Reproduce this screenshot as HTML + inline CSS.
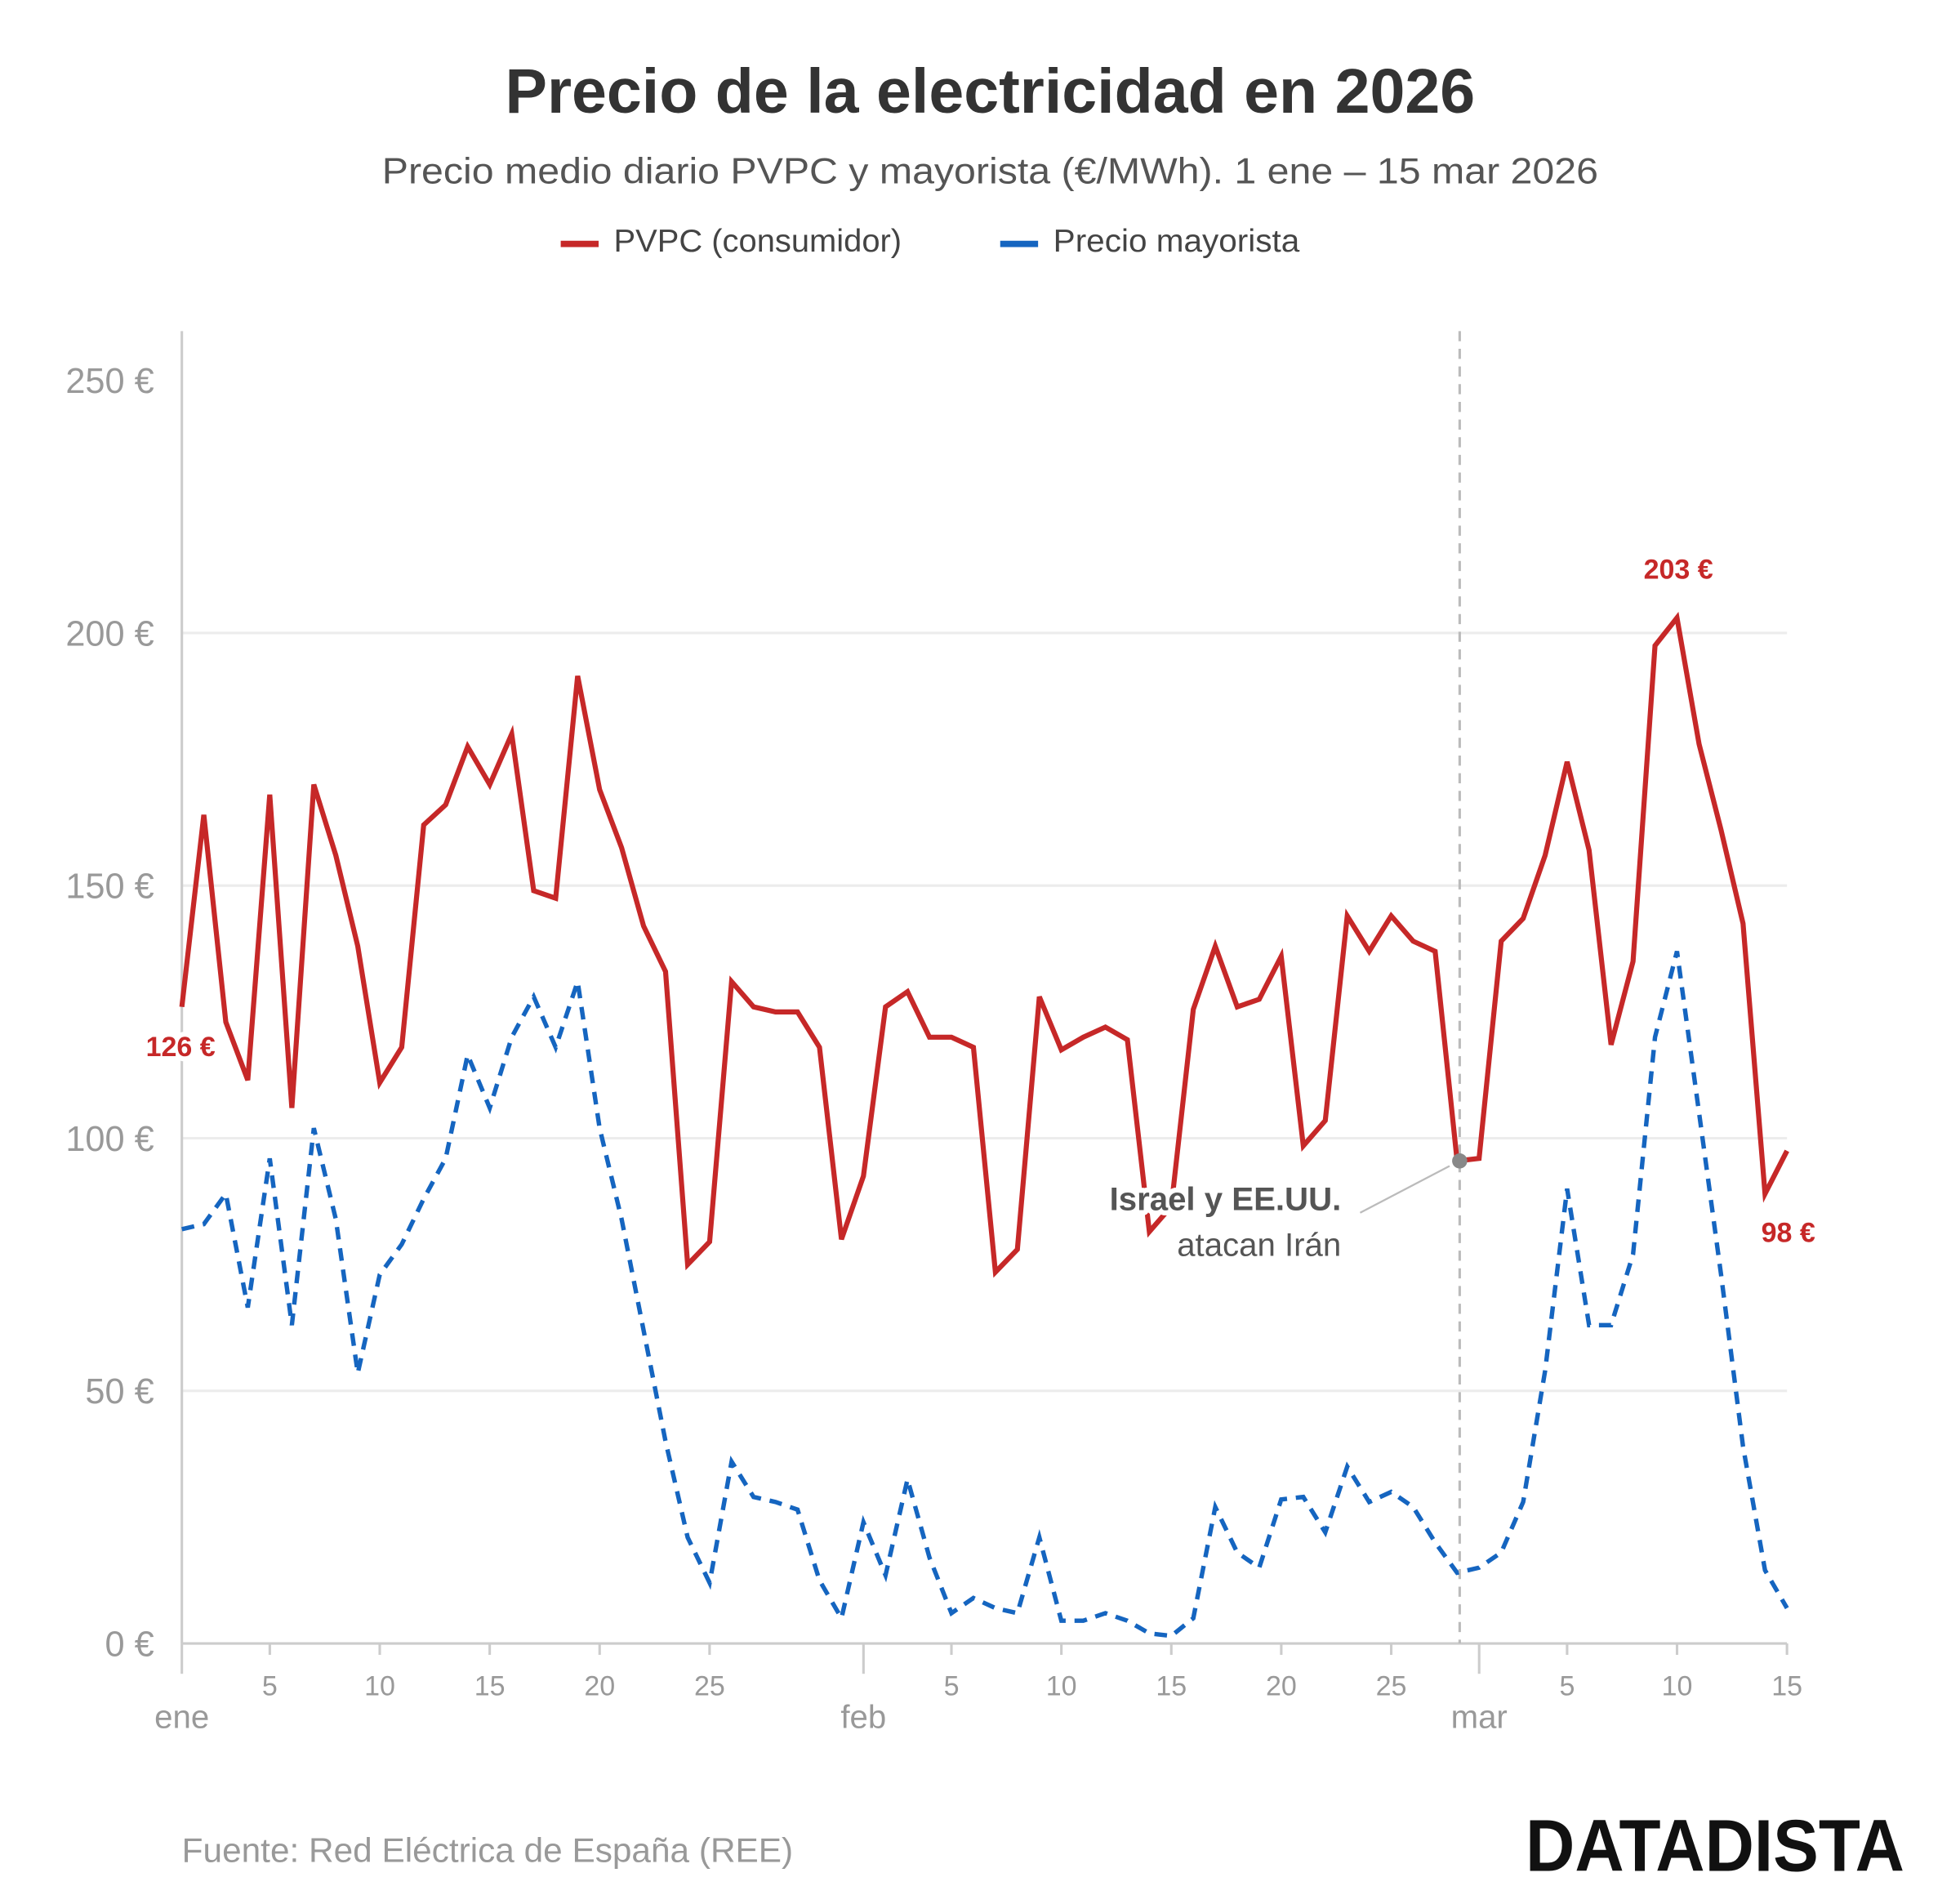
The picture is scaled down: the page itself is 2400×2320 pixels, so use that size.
<!DOCTYPE html>
<html><head><meta charset="utf-8"><style>html,body{margin:0;padding:0;background:#fff}svg{display:block}text{font-family:"Liberation Sans",sans-serif}</style></head>
<body>
<svg id="chart" width="2400" height="2320" viewBox="0 0 1552 1500" xmlns="http://www.w3.org/2000/svg">
<text x="784" y="89" text-anchor="middle" font-size="50" font-weight="bold" fill="#333" textLength="768" lengthAdjust="spacingAndGlyphs">Precio de la electricidad en 2026</text>
<text x="784" y="145" text-anchor="middle" font-size="29" fill="#555" textLength="963" lengthAdjust="spacingAndGlyphs">Precio medio diario PVPC y mayorista (€/MWh). 1 ene – 15 mar 2026</text>
<g>
<line x1="444" y1="193" x2="474" y2="193" stroke="#c62828" stroke-width="5"/>
<text x="486" y="199" font-size="25" fill="#444" textLength="228" lengthAdjust="spacingAndGlyphs">PVPC (consumidor)</text>
<line x1="792" y1="193" x2="822" y2="193" stroke="#1565c0" stroke-width="5"/>
<text x="834" y="199" font-size="25" fill="#444" textLength="195" lengthAdjust="spacingAndGlyphs">Precio mayorista</text>
</g>
<g id="grid"></g><g id="axes"></g><g id="series"></g><g id="labels"></g>
<text x="144" y="1474" font-size="27" fill="#999" textLength="484" lengthAdjust="spacingAndGlyphs">Fuente: Red Eléctrica de España (REE)</text>
<text x="1508" y="1481" text-anchor="end" font-size="58" font-weight="bold" fill="#111" textLength="300" lengthAdjust="spacingAndGlyphs">DATADISTA</text>
</svg>
<script>
const pvpc=[126,164,123,111.5,168,106,170,156,138,111,118,162,166,177.5,170,180,149,147.5,191.5,169,157.5,142,133,75,79.5,131,126,125,125,118,80,
92.5,126,129,120,120,118,73.5,78,128,117.5,120,122,119.5,81.5,86.5,125.5,138,126,127.5,136,98.5,103.5,144,137,144,139,137,95.5,
96,139,143.5,156,174.5,157,118.5,135,197.5,203,178,161,142.5,89,97.5];
const mayorista=[82,83,89,66.5,96,63,102,84,53.5,73,79,88,96,116.5,106,120,128,118,131,102,84,62,40,21,12,36,29,28,26.5,12.5,5,
24,13.5,32.5,17,6,9,7,6,21,4.5,4.5,6,4.5,2,1.5,5,27,18,15,28.5,29,22,35,28,30,27,20,14,
15,18,28,54,90,63,63,77,120,137,105,73,39,14.5,7];
const yTicks=[0,50,100,150,200,250];
const monthStarts=[0,31,59];
const monthNames=["ene","feb","mar"];
const dayTickIdx=[4,9,14,19,24,35,40,45,50,55,63,68,73];
const dayTickLabels=["5","10","15","20","25","5","10","15","20","25","5","10","15"];
const eventIdx=58;
const NS="http://www.w3.org/2000/svg";
const X0=144,X1=1415,Y0=1301,YT=301;
const n=pvpc.length;
function x(i){return X0+(X1-X0)*i/(n-1);}
function y(v){return Y0-(Y0-YT)*v/250;}
function mk(tag,attrs,parent,txt){const e=document.createElementNS(NS,tag);for(const k in attrs)e.setAttribute(k,attrs[k]);if(txt!==undefined)e.textContent=txt;parent.appendChild(e);return e;}
const grid=document.getElementById('grid'),axes=document.getElementById('axes'),series=document.getElementById('series'),labels=document.getElementById('labels');
yTicks.forEach(v=>{
  if(v>0&&v<250){const g=mk('line',{x1:X0,x2:X1,y1:y(v),y2:y(v),stroke:'#ececec','stroke-width':2},grid);
  
  }
  const t=mk('text',{x:122,y:y(v)+10,'text-anchor':'end','font-size':28,fill:'#999'},axes,v+' €');
  
  
});
const ax=mk('line',{x1:X0,x2:X0,y1:262,y2:Y0,stroke:'#ccc','stroke-width':2},axes);


const bx=mk('line',{x1:X0,x2:X1,y1:Y0,y2:Y0,stroke:'#ccc','stroke-width':2},axes);


monthStarts.forEach((d,k)=>{
  mk('line',{x1:x(d),x2:x(d),y1:Y0,y2:Y0+24,stroke:'#ccc','stroke-width':2},axes);
  const t=mk('text',{x:x(d),y:1368,'text-anchor':'middle','font-size':26,fill:'#999'},axes,monthNames[k]);
  
  
});
dayTickIdx.forEach((d,k)=>{
  mk('line',{x1:x(d),x2:x(d),y1:Y0,y2:Y0+9,stroke:'#ccc','stroke-width':2},axes);
  const t=mk('text',{x:x(d),y:1342,'text-anchor':'middle','font-size':22,fill:'#999'},axes,dayTickLabels[k]);
  
  
});
const ev=mk('line',{x1:x(eventIdx)+2,x2:x(eventIdx)+2,y1:262,y2:Y0,stroke:'#bbb','stroke-width':2,'stroke-dasharray':'8,6'},series);


function pts(a){return a.map((v,i)=>x(i).toFixed(1)+','+y(v).toFixed(1)).join(' ');}
const pb=mk('polyline',{points:pts(mayorista),fill:'none',stroke:'#1565c0','stroke-width':3.5,'stroke-dasharray':'10,7'},series);


const pr=mk('polyline',{points:pts(pvpc),fill:'none',stroke:'#c62828','stroke-width':4,'stroke-linejoin':'miter'},series);


const halo={stroke:'#fff','stroke-width':8,'paint-order':'stroke','stroke-linejoin':'round'};
function lab(txt,xx,yy,anchor,size,weight,fill,name){const a=Object.assign({x:xx,y:yy,'text-anchor':anchor,'font-size':size,'font-weight':weight,fill:fill},halo);const t=mk('text',a,labels,txt);return t;}
const cl=mk('line',{x1:1077,y1:960,x2:x(eventIdx)-6,y2:y(pvpc[eventIdx])+4,stroke:'#bbb','stroke-width':1.5},labels);


lab('Israel y EE.UU.',1062,958,'end',26,'bold','#555','annotation-title');
lab('atacan Irán',1062,994,'end',26,'normal','#555','annotation-text');
const dot=mk('circle',{cx:x(eventIdx)+2,cy:y(pvpc[eventIdx]),r:6,fill:'#888'},labels);


lab(pvpc[0].toFixed(0)+' €',143,836,'middle',22,'bold','#c62828','first-value-label');
lab('203 €',1329,458,'middle',22,'bold','#c62828','max-value-label');
lab('98 €',1416,983,'middle',22,'bold','#c62828','last-value-label');
</script>
</body></html>
